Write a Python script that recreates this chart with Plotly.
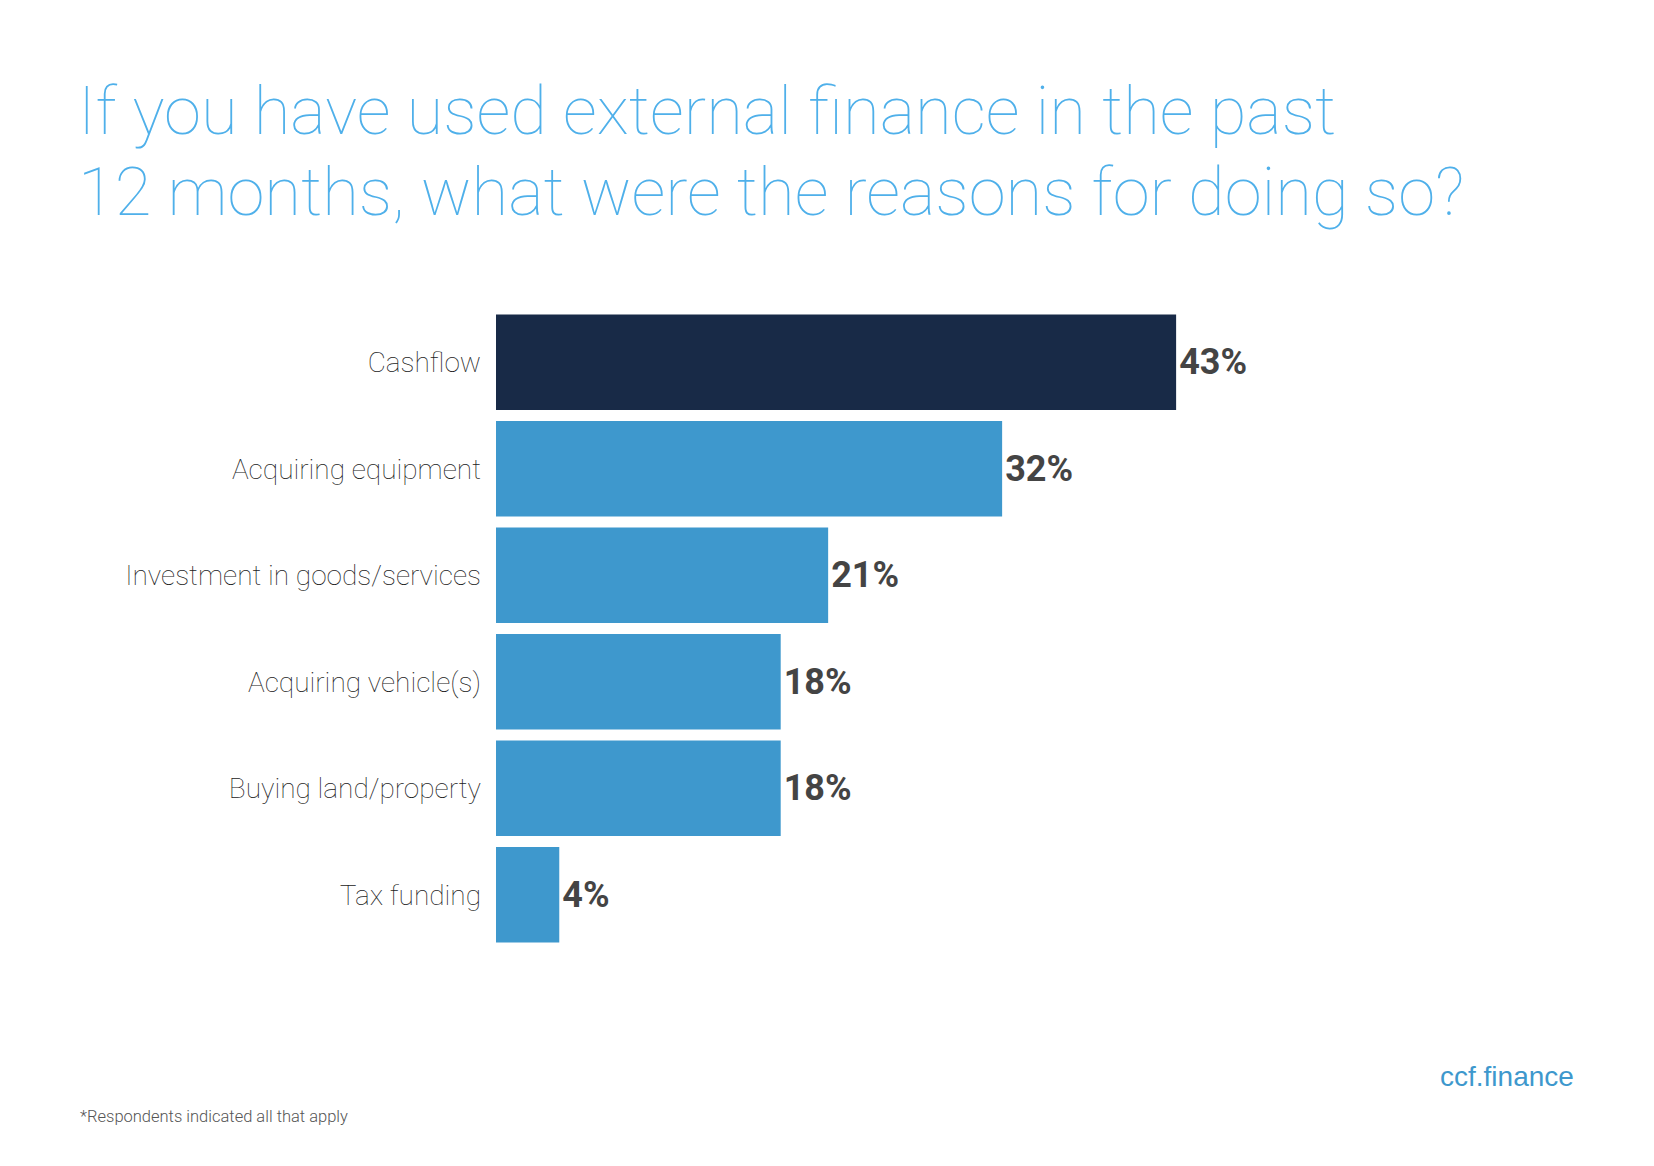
import plotly.graph_objects as go

# 데이터
reasons = ["Cashflow", "Acquiring equipment", "Investment in goods/services",
           "Acquiring vehicle(s)", "Buying land/property", "Tax funding"]
shares = [43, 32, 21, 18, 18, 4]
bar_colors = ["#182a47", "#3e98cd", "#3e98cd", "#3e98cd", "#3e98cd", "#3e98cd"]

title_lines = ["If you have used external finance in the past",
               "12 months, what were the reasons for doing so?"]
footnote = "*Respondents indicated all that apply"
brand = "ccf.finance"

W, H = 1654, 1166
L, R, T, B = 488, 217, 301, 226
PW, PH = W - L - R, H - T - B
THIN = "Roboto Thin"


def px(x, y):
    # pixel -> paper coords
    return (x - L) / PW, 1 - (y - T) / PH


fig = go.Figure()
fig.add_trace(go.Bar(
    y=reasons, x=shares, orientation="h",
    marker=dict(color=bar_colors, line=dict(width=0)),
    text=[f"{v}%" for v in shares], textposition="outside",
    textfont=dict(family="Roboto", size=36, color="#444444", weight="bold"),
    constraintext="none", cliponaxis=False, hoverinfo="skip",
))

annos = []
for i, line in enumerate(title_lines):
    ax, ay = px(68, 103 + i * 81)
    annos.append(dict(text=line, x=ax, y=ay, xref="paper", yref="paper",
                      xanchor="left", yanchor="middle", showarrow=False,
                      font=dict(family=THIN, size=67, color="#4fb0ea", weight=300)))
ax, ay = px(70, 1108)
annos.append(dict(text=footnote, x=ax, y=ay, xref="paper", yref="paper",
                  xanchor="left", yanchor="middle", showarrow=False,
                  font=dict(family="Roboto", size=16.5, color="#555555", weight=300)))
ax, ay = px(1568, 1068)
annos.append(dict(text=brand, x=ax, y=ay, xref="paper", yref="paper",
                  xanchor="right", yanchor="middle", showarrow=False,
                  font=dict(family="Liberation Sans", size=28, color="#3e98cd")))

fig.update_layout(
    width=W, height=H,
    margin=dict(l=L, r=R, t=T, b=B, pad=0),
    paper_bgcolor="white", plot_bgcolor="white",
    bargap=0.105, showlegend=False,
    xaxis=dict(range=[0, 60], visible=False, fixedrange=True),
    yaxis=dict(autorange="reversed", showgrid=False, zeroline=False, showline=False,
               ticks="", ticklabelstandoff=14,
               tickfont=dict(family=THIN, size=28, color="#222222", weight=300)),
    annotations=annos,
)

fig.write_html("out.html")
